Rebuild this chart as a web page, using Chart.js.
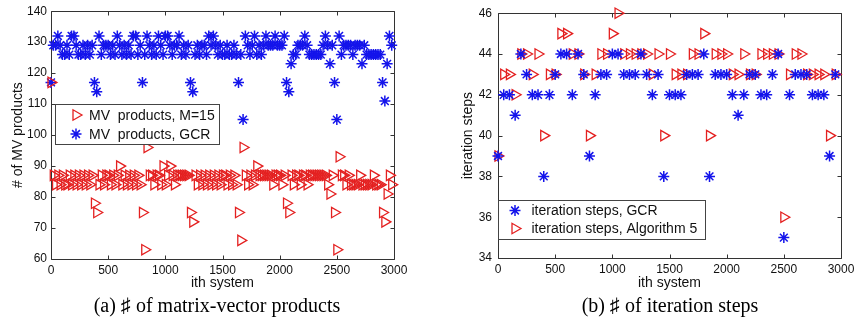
<!DOCTYPE html>
<html><head><meta charset="utf-8">
<script src="https://cdn.jsdelivr.net/npm/chart.js@4/dist/chart.umd.min.js"></script>
<style>
html,body{margin:0;padding:0;background:#fff;width:859px;height:328px;overflow:hidden;}
#wa{position:absolute;left:0;top:0;width:430px;height:300px;}
#wb{position:absolute;left:430px;top:0;width:429px;height:300px;}
.cap{position:absolute;top:293px;font-family:"Liberation Serif","Times New Roman",serif;font-size:20px;color:#000;white-space:nowrap;transform:translateX(-50%);line-height:24px;}
</style></head>
<body>
<div id="wa"><canvas id="ca" width="430" height="300"></canvas></div>
<div id="wb"><canvas id="cb" width="429" height="300"></canvas></div>
<div class="cap" style="left:217px">(a) ♯ of matrix-vector products</div>
<div class="cap" style="left:670px">(b) ♯ of iteration steps</div>
<script>
// ---------- data (a) ----------
const systemsA = [0,20,40,60,80,100,120,140,160,180,200,220,240,260,280,300,320,340,360,380,
400,420,440,460,480,500,520,540,560,580,600,620,640,660,680,700,720,740,760,780,
800,820,840,860,880,900,920,940,960,980,1000,1020,1040,1060,1080,1100,1120,1140,1160,1180,
1200,1220,1240,1260,1280,1300,1320,1340,1360,1380,1400,1420,1440,1460,1480,1500,1520,1540,1560,1580,
1600,1620,1640,1660,1680,1700,1720,1740,1760,1780,1800,1820,1840,1860,1880,1900,1920,1940,1960,1980,
2000,2020,2040,2060,2080,2100,2120,2140,2160,2180,2200,2220,2240,2260,2280,2300,2320,2340,2360,2380,
2400,2420,2440,2460,2480,2500,2520,2540,2560,2580,2600,2620,2640,2660,2680,2700,2720,2740,2760,2780,
2800,2820,2840,2860,2880,2900,2920,2940,2960,2980];
const mvM15 = [117,87,84,87,84,87,84,84,87,84, 87,84,87,84,87,84,87,84,87,78,
75,84,87,84,87,87,84,87,84,87, 90,84,87,84,87,84,87,84,87,84,
75,63,96,87,87,84,87,87,84,90, 84,87,90,87,84,87,87,87,87,87,
87,75,72,87,84,87,84,87,84,87, 84,87,84,87,84,87,87,84,87,84,
87,84,75,66,96,87,84,87,84,87, 90,87,87,87,87,87,87,84,87,87,
87,84,87,78,75,87,84,87,87,84, 87,87,84,87,87,87,87,87,87,87,
87,84,81,87,75,63,93,87,87,84, 87,84,84,84,84,87,84,84,84,84,
84,87,84,84,84,75,72,81,87,84];
const mvGCR = [117,129,129,132,129,126,126,129,126,132, 132,129,126,126,129,126,129,126,129,117,
114,132,126,129,129,129,126,129,126,132, 129,126,129,126,129,126,132,132,126,129,
117,126,132,129,126,129,126,132,129,126, 132,132,129,126,129,129,132,126,129,126,
129,117,114,126,129,126,129,129,126,132, 129,132,129,126,129,126,126,129,126,126,
129,126,117,126,105,132,129,126,129,132, 126,129,126,129,132,129,129,129,132,129,
129,129,132,117,114,123,126,126,129,129, 129,132,129,126,126,126,126,126,126,129,
132,129,123,129,117,105,132,126,129,129, 129,129,126,129,129,129,123,129,126,126,
126,126,126,126,126,117,111,123,132,129];
const xTicksA = [0,500,1000,1500,2000,2500,3000];
const yTicksA = [60,70,80,90,100,110,120,130,140];

// ---------- data (b) ----------
const systemsB = [0,50,100,150,200,250,300,350,400,450,500,550,600,650,700,750,800,850,900,950,
1000,1050,1100,1150,1200,1250,1300,1350,1400,1450,1500,1550,1600,1650,1700,1750,1800,1850,1900,1950,
2000,2050,2100,2150,2200,2250,2300,2350,2400,2450,2500,2550,2600,2650,2700,2750,2800,2850,2900,2950];
const itGCR = [39,42,42,41,44,43,42,42,38,42, 43,44,44,42,44,43,39,42,43,43,
44,44,43,43,43,44,43,42,43,38, 42,42,42,43,43,43,44,38,43,43,
43,42,41,42,43,43,42,42,43,44, 35,42,43,43,43,42,42,42,39,43];
const itAlg5 = [39,43,43,42,44,44,43,44,40,43, 43,45,45,44,44,43,40,43,44,44,
45,46,44,44,44,44,44,43,44,40, 44,43,43,43,44,44,45,40,44,44,
44,43,43,44,43,43,44,44,44,44, 36,43,44,44,43,43,43,43,40,43];
const xTicksB = [0,500,1000,1500,2000,2500,3000];
const yTicksB = [34,36,38,40,42,44,46];

// ---------- styling ----------
const RED = 'rgb(228,32,32)';
const BLUE = 'rgb(20,20,235)';
const SANS = '"Liberation Sans", Arial, Helvetica, sans-serif';

function pts(xs, ys){ return xs.map((x,i)=>({x:x, y:ys[i]})); }

function triDS(label, data){
  return {label, data, showLine:false, clip:false, pointStyle:'triangle', pointRotation:90, pointRadius:6,
    pointBorderColor:RED, pointBackgroundColor:'rgba(0,0,0,0)', pointBorderWidth:1.3, legendMarker:'tri'};
}
function starDS(label, data){
  return {label, data, showLine:false, clip:false, pointStyle:'star', pointRadius:5.5,
    pointBorderColor:BLUE, pointBackgroundColor:BLUE, pointBorderWidth:1.5, legendMarker:'star'};
}

function drawMarker(ctx, kind, x, y){
  ctx.save();
  if(kind==='tri'){
    const r = 6;
    ctx.lineWidth = 1.3;
    ctx.strokeStyle = RED;
    ctx.beginPath();
    ctx.moveTo(x + r, y);
    ctx.lineTo(x - r/2, y - r*Math.sqrt(3)/2);
    ctx.lineTo(x - r/2, y + r*Math.sqrt(3)/2);
    ctx.closePath();
    ctx.stroke();
  } else {
    const r = 5.5, d = r*Math.SQRT1_2;
    ctx.lineWidth = 1.5;
    ctx.strokeStyle = BLUE;
    ctx.beginPath();
    ctx.moveTo(x - r, y); ctx.lineTo(x + r, y);
    ctx.moveTo(x, y - r); ctx.lineTo(x, y + r);
    ctx.moveTo(x - d, y - d); ctx.lineTo(x + d, y + d);
    ctx.moveTo(x - d, y + d); ctx.lineTo(x + d, y - d);
    ctx.stroke();
  }
  ctx.restore();
}

const framePlugin = {
  id:'frameBox',
  beforeDatasetsDraw(chart){
    const {ctx, chartArea:a, scales:{x, y}} = chart;
    ctx.save();
    ctx.strokeStyle = '#333';
    ctx.lineWidth = 1;
    const L = Math.round(a.left)+0.5, R = Math.round(a.right)+0.5, T = Math.round(a.top)+0.5, B = Math.round(a.bottom)+0.5;
    ctx.beginPath();
    ctx.rect(L, T, R-L, B-T);
    const tl = 4;
    x.ticks.forEach(t=>{
      const px = Math.round(x.getPixelForValue(t.value))+0.5;
      ctx.moveTo(px, B); ctx.lineTo(px, B - tl);
      ctx.moveTo(px, T); ctx.lineTo(px, T + tl);
    });
    y.ticks.forEach(t=>{
      const py = Math.round(y.getPixelForValue(t.value))+0.5;
      ctx.moveTo(L, py); ctx.lineTo(L + tl, py);
      ctx.moveTo(R, py); ctx.lineTo(R - tl, py);
    });
    ctx.stroke();
    ctx.restore();
  },
  afterDatasetsDraw(chart){
    const {ctx} = chart;
    const lg = chart.options.plugins.boxLegend;
    if(!lg) return;
    ctx.save();
    ctx.fillStyle = '#fff';
    ctx.fillRect(lg.x, lg.y, lg.w, lg.h);
    ctx.strokeStyle = '#444';
    ctx.lineWidth = 1;
    ctx.strokeRect(Math.round(lg.x)+0.5, Math.round(lg.y)+0.5, Math.round(lg.w), Math.round(lg.h));
    ctx.font = '14px ' + SANS;
    ctx.textBaseline = 'middle';
    ctx.textAlign = 'left';
    lg.order.forEach((di, k)=>{
      const ds = chart.data.datasets[di];
      const ry = lg.rows[k];
      drawMarker(ctx, ds.legendMarker, lg.mx, ry);
      ctx.fillStyle = '#111';
      ctx.fillText(ds.label, lg.tx, ry + 1);
    });
    ctx.restore();
  }
};

function makeChart(id, datasets, xt, yt, ymin, ymax, ytitle, cfg){
  return new Chart(document.getElementById(id), {
    type:'scatter',
    data:{datasets},
    options:{
      responsive:false, animation:false, events:[],
      layout:{padding:{left:0, right:cfg.padR, top:cfg.padT, bottom:0}},
      plugins:{legend:{display:false}, tooltip:{enabled:false}, boxLegend:cfg.legend},
      scales:{
        x:{type:'linear', min:xt[0], max:xt[xt.length-1],
          afterBuildTicks:(s)=>{ s.ticks = xt.map(v=>({value:v})); },
          grid:{display:false, drawTicks:false}, border:{display:false},
          ticks:{color:'#111', font:{family:SANS, size:12}, padding:4, maxRotation:0, autoSkip:false,
                 callback:(v)=>String(v)},
          title:{display:true, text:'ith system', color:'#111', font:{family:SANS, size:14}, padding:{top:0, bottom:cfg.xTitlePad}},
          afterFit:(s)=>{ s.height = cfg.xAxisH; }
        },
        y:{type:'linear', min:ymin, max:ymax,
          afterBuildTicks:(s)=>{ s.ticks = yt.map(v=>({value:v})); },
          grid:{display:false, drawTicks:false}, border:{display:false},
          ticks:{color:'#111', font:{family:SANS, size:12}, padding:cfg.yTickPad, autoSkip:false,
                 callback:(v)=>String(v)},
          title:{display:true, text:ytitle, color:'#111', font:{family:SANS, size:14}, padding:{top:cfg.yTitlePad, bottom:0}},
          afterFit:(s)=>{ s.width = cfg.yAxisW; }
        }
      }
    },
    plugins:[framePlugin]
  });
}

makeChart('ca',
  [triDS('MV  products, M=15', pts(systemsA, mvM15)), starDS('MV  products, GCR', pts(systemsA, mvGCR))],
  xTicksA, yTicksA, 60, 140, '# of MV products',
  {padR:36, padT:11, xAxisH:41, yAxisW:51, xTitlePad:8.6, yTitlePad:9.6, yTickPad:4,
   legend:{x:55, y:104, w:164, h:40, mx:76, rows:[115,134], tx:89, order:[0,1]}});

makeChart('cb',
  [starDS('iteration steps, GCR', pts(systemsB, itGCR)), triDS('iteration steps, Algorithm 5', pts(systemsB, itAlg5))],
  xTicksB, yTicksB, 34, 46, 'iteration steps',
  {padR:18, padT:10, xAxisH:42, yAxisW:68, xTitlePad:8.6, yTitlePad:29.6, yTickPad:6,
   legend:{x:68, y:200, w:207, h:39, mx:85, rows:[210.5,228.5], tx:101.5, order:[0,1]}});
</script>
</body></html>
